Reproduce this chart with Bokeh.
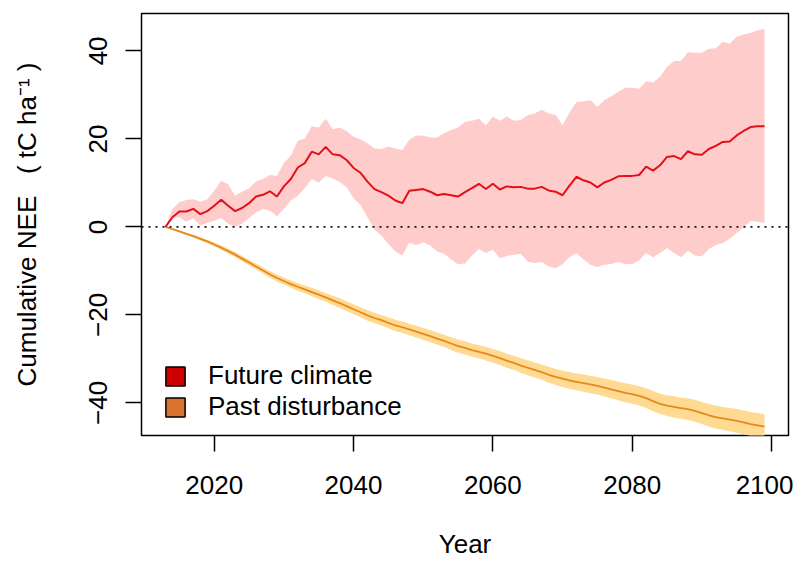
from bokeh.plotting import figure
from bokeh.models import Range1d, FixedTicker, Span, Legend, LegendItem
from bokeh.embed import file_html
from bokeh.resources import INLINE

years = list(range(2013, 2100))

# Future climate: mean and envelope
red_mean = [0.0, 2.2, 3.5, 3.5, 4.1, 2.9, 3.6,
            4.8, 6.2, 4.8, 3.6, 4.3, 5.4, 6.9, 7.3, 8.1, 6.9,
            9.2, 10.9, 13.5, 14.5, 17.1, 16.5, 18.2, 16.5, 16.3, 15.2,
            13.4, 12.3, 10.3, 8.6, 7.9, 7.1, 6.0, 5.4, 8.2, 8.4,
            8.6, 8.0, 7.2, 7.5, 7.2, 6.9, 7.9, 8.8, 9.8, 8.6,
            9.8, 8.5, 9.2, 9.0, 9.1, 8.7, 8.7, 9.1, 8.3, 8.0,
            7.2, 9.4, 11.4, 10.6, 10.1, 9.0, 10.1, 10.7, 11.5, 11.6,
            11.6, 11.8, 13.7, 12.8, 14.0, 15.9, 16.1, 15.4, 17.2, 16.5,
            16.4, 17.7, 18.4, 19.3, 19.4, 20.8, 21.8, 22.7, 22.9, 22.9]
red_hi = [0.0, 4.1, 5.6, 6.1, 6.3, 5.7, 6.3,
          8.2, 10.5, 9.7, 7.1, 8.0, 8.8, 10.3, 10.9, 11.8, 11.6,
          14.5, 16.2, 19.6, 20.1, 22.9, 22.6, 24.6, 22.2, 22.6, 21.8,
          20.5, 19.9, 19.0, 17.8, 17.7, 18.3, 17.8, 17.5, 19.8, 20.8,
          20.7, 20.3, 20.3, 21.3, 22.0, 22.6, 23.9, 24.1, 24.6, 23.1,
          25.1, 24.1, 25.1, 24.1, 24.3, 25.4, 25.8, 26.6, 25.8, 25.5,
          23.1, 26.0, 28.4, 28.5, 28.8, 27.3, 28.8, 29.7, 30.7, 31.6,
          31.6, 31.4, 33.1, 32.8, 34.1, 36.4, 37.7, 37.7, 39.7, 39.6,
          39.6, 40.5, 40.6, 42.1, 41.6, 43.2, 43.7, 44.1, 44.7, 45.0]
red_lo = [0.0, 2.0, 2.2, 1.2, 2.0, 0.3, 0.9,
          1.4, 2.0, 0.7, 0.0, 0.7, 2.0, 3.3, 4.1, 3.7, 2.4,
          4.1, 6.0, 7.1, 8.8, 10.9, 10.1, 11.6, 11.0, 10.2, 9.0,
          6.5, 5.0, 2.2, -0.6, -2.0, -3.9, -5.6, -6.5, -3.6, -4.1,
          -3.5, -4.2, -5.6, -6.1, -7.4, -8.5, -8.3, -6.5, -5.0, -5.9,
          -5.2, -7.1, -6.6, -6.3, -6.1, -7.9, -8.2, -8.0, -9.0, -9.4,
          -8.5, -6.9, -5.9, -7.4, -8.6, -9.1, -8.6, -8.4, -8.0, -8.4,
          -8.5, -7.6, -5.9, -6.9, -5.9, -4.8, -5.9, -6.9, -5.4, -6.5,
          -6.7, -5.0, -4.1, -3.7, -2.7, -1.4, -0.1, 1.4, 1.2, 0.9]

# Past disturbance: mean and half-width of envelope
org_mean = [0.0, -0.5, -1.0, -1.6, -2.1, -2.7, -3.3,
            -4.0, -4.7, -5.5, -6.3, -7.2, -8.1, -9.0, -9.9, -10.8, -11.6,
            -12.3, -13.0, -13.6, -14.2, -14.8, -15.4, -16.0, -16.7, -17.3, -18.0,
            -18.7, -19.4, -20.1, -20.7, -21.2, -21.8, -22.4, -22.8, -23.3, -23.8,
            -24.3, -24.8, -25.4, -25.9, -26.5, -27.1, -27.5, -28.0, -28.4, -28.8,
            -29.3, -29.8, -30.4, -30.9, -31.5, -32.0, -32.5, -33.0, -33.6, -34.1,
            -34.5, -34.9, -35.2, -35.5, -35.8, -36.1, -36.5, -36.9, -37.3, -37.7,
            -38.0, -38.4, -38.9, -39.6, -40.2, -40.6, -40.9, -41.2, -41.4, -41.8,
            -42.3, -42.8, -43.2, -43.5, -43.8, -44.1, -44.4, -44.8, -45.1, -45.4]
org_half = [0.0, 0.1, 0.2, 0.25, 0.3, 0.35, 0.4,
            0.45, 0.5, 0.55, 0.6, 0.6, 0.65, 0.7, 0.7, 0.75, 0.8,
            0.8, 0.85, 0.9, 0.9, 0.95, 1.0, 1.0, 1.05, 1.1, 1.1,
            1.1, 1.15, 1.2, 1.2, 1.2, 1.25, 1.3, 1.3, 1.3, 1.35,
            1.35, 1.4, 1.4, 1.4, 1.45, 1.5, 1.5, 1.5, 1.5, 1.55,
            1.55, 1.6, 1.6, 1.6, 1.65, 1.7, 1.7, 1.75, 1.8, 1.8,
            1.85, 1.9, 1.9, 1.95, 2.0, 2.0, 2.05, 2.1, 2.1, 2.15,
            2.2, 2.2, 2.25, 2.3, 2.3, 2.35, 2.4, 2.4, 2.45, 2.5,
            2.5, 2.55, 2.6, 2.6, 2.65, 2.7, 2.7, 2.75, 2.8, 2.85]
org_lo = [m - h for m, h in zip(org_mean, org_half)]
org_hi = [m + h for m, h in zip(org_mean, org_half)]

x_ticks = [2020, 2040, 2060, 2080, 2100]
y_ticks = [-40, -20, 0, 20, 40]
series_names = ["Future climate", "Past disturbance"]

FONT = "Liberation Sans"
FS = "26px"
NAN = float("nan")

p = figure(width=793, height=561, output_backend="svg", toolbar_location=None,
           x_range=Range1d(2009.56, 2102.44), y_range=Range1d(-47.4, 48.5),
           min_border_left=141, min_border_right=5, min_border_top=13,
           min_border_bottom=124)
p.background_fill_color = "white"
p.border_fill_color = "white"
p.xgrid.visible = False
p.ygrid.visible = False
p.outline_line_color = "black"
p.outline_line_width = 1.5
p.outline_line_alpha = 1.0

# envelopes
p.varea(x=years, y1=org_lo, y2=org_hi, fill_color="#FFDA92")
p.varea(x=years, y1=red_lo, y2=red_hi, fill_color="#FFCCCC")

# zero line
p.add_layout(Span(location=0, dimension="width", line_color="#111111",
                  line_dash="2 5", line_width=1.8))

# means
p.line(years, org_mean, line_color="#E8871E", line_width=1.8)
p.line(years, red_mean, line_color="#E3101A", line_width=2)

# legend swatches (renderers with no visible geometry)
r_fc = p.quad(left=[NAN], right=[NAN], top=[NAN], bottom=[NAN],
              fill_color="#CC0000", line_color="black", line_width=1.5)
r_pd = p.quad(left=[NAN], right=[NAN], top=[NAN], bottom=[NAN],
              fill_color="#D8722C", line_color="black", line_width=1.5)
legend = Legend(items=[LegendItem(label=series_names[0], renderers=[r_fc]),
                       LegendItem(label=series_names[1], renderers=[r_pd])],
                location=(22, 13), glyph_width=24, glyph_height=24,
                label_standoff=21, spacing=0, padding=0, margin=0,
                border_line_alpha=0, background_fill_alpha=0,
                label_text_font_size=FS, label_text_font=FONT,
                label_text_color="black")
p.add_layout(legend)

for ax in (p.xaxis[0], p.yaxis[0]):
    ax.axis_line_color = None
    ax.major_tick_out = 16
    ax.major_tick_in = 0
    ax.minor_tick_out = 0
    ax.minor_tick_in = 0
    ax.major_tick_line_width = 1.5
    ax.major_tick_line_color = "black"
    ax.major_label_text_font = FONT
    ax.major_label_text_font_size = FS
    ax.major_label_text_color = "black"
    ax.axis_label_text_font = FONT
    ax.axis_label_text_font_size = FS
    ax.axis_label_text_font_style = "normal"
    ax.axis_label_text_color = "black"

p.xaxis.ticker = FixedTicker(ticks=x_ticks)
p.yaxis.ticker = FixedTicker(ticks=y_ticks)
p.xaxis.major_label_standoff = 24
p.xaxis.axis_label = "Year"
p.xaxis.axis_label_standoff = 32
p.yaxis.major_label_orientation = "vertical"
p.yaxis.major_label_standoff = 18
p.yaxis.axis_label = "Cumulative NEE\u00a0\u00a0\u00a0(\u00a0tC\u00a0ha\u207b\u00b9\u00a0)"
p.yaxis.axis_label_standoff = 45

open("out.html", "w").write(file_html(p, INLINE))
